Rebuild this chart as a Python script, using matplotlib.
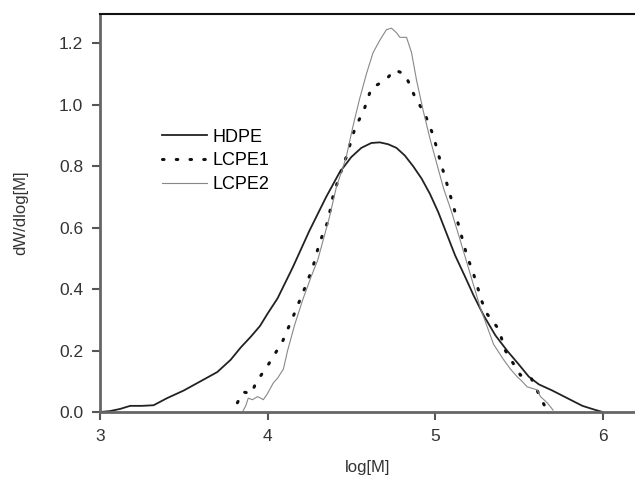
import numpy as np
import matplotlib.pyplot as plt

plt.rcParams['font.family'] = ['Liberation Sans', 'DejaVu Sans']

# HDPE (solid)
hdpe_x = [3.0, 3.06, 3.12, 3.18, 3.25, 3.32, 3.40, 3.5, 3.6, 3.7, 3.78, 3.84, 3.9,
          3.955, 4.0, 4.06, 4.15, 4.25, 4.35, 4.43, 4.5, 4.56, 4.62, 4.67, 4.72,
          4.77, 4.82, 4.87, 4.92, 4.97, 5.02, 5.07, 5.12, 5.18, 5.23, 5.29, 5.36,
          5.43, 5.50, 5.56, 5.62, 5.70, 5.79, 5.88, 5.95, 6.0]
hdpe_y = [0.0, 0.003, 0.01, 0.02, 0.02, 0.022, 0.045, 0.07, 0.10, 0.13, 0.17, 0.21,
          0.245, 0.28, 0.32, 0.37, 0.47, 0.59, 0.70, 0.78, 0.83, 0.86, 0.876, 0.878,
          0.872, 0.86, 0.835, 0.80, 0.76, 0.71, 0.65, 0.58, 0.51, 0.44, 0.38, 0.315,
          0.25, 0.20, 0.155, 0.115, 0.09, 0.07, 0.045, 0.02, 0.008, 0.0]

# LCPE1 (dotted)
lcpe1_x = [3.82, 3.855, 3.905, 3.93, 4.0, 4.09, 4.16, 4.22, 4.27, 4.31, 4.36, 4.39,
           4.43, 4.47, 4.52, 4.58, 4.62, 4.67, 4.72, 4.76, 4.82, 4.85, 4.88, 4.94,
           4.99, 5.03, 5.07, 5.11, 5.15, 5.19, 5.23, 5.28, 5.31, 5.38, 5.42, 5.51,
           5.57, 5.645, 5.67]
lcpe1_y = [0.03, 0.065, 0.06, 0.095, 0.15, 0.23, 0.32, 0.40, 0.47, 0.55, 0.62, 0.70,
           0.77, 0.83, 0.92, 0.99, 1.055, 1.07, 1.09, 1.114, 1.10, 1.065, 1.026, 0.97,
           0.90, 0.82, 0.745, 0.67, 0.59, 0.51, 0.45, 0.36, 0.32, 0.27, 0.20, 0.12,
           0.115, 0.03, 0.005]

# LCPE2 (thin grey)
lcpe2_x = [3.855, 3.87, 3.885, 3.91, 3.94, 3.96, 3.975, 4.0, 4.035, 4.06, 4.095, 4.12,
           4.16, 4.21, 4.26, 4.30, 4.37, 4.41, 4.47, 4.51, 4.55, 4.59, 4.63, 4.67,
           4.71, 4.74, 4.77, 4.79, 4.83, 4.86, 4.89, 4.93, 4.97, 5.01, 5.05, 5.10,
           5.15, 5.21, 5.27, 5.31, 5.35, 5.41, 5.45, 5.49, 5.52, 5.55, 5.61, 5.63,
           5.67, 5.705]
lcpe2_y = [0.005, 0.02, 0.045, 0.04, 0.05, 0.045, 0.04, 0.06, 0.095, 0.11, 0.14, 0.20,
           0.28, 0.365, 0.44, 0.495, 0.635, 0.73, 0.83, 0.93, 1.02, 1.10, 1.17, 1.21,
           1.245, 1.25, 1.235, 1.22, 1.22, 1.17, 1.08, 0.98, 0.89, 0.81, 0.73, 0.65,
           0.56, 0.45, 0.34, 0.28, 0.22, 0.17, 0.14, 0.115, 0.10, 0.082, 0.072, 0.05,
           0.03, 0.006]

fig = plt.figure(figsize=(6.35, 4.78), dpi=100)
ax = fig.add_axes([100 / 635, 66 / 478, 535 / 635, 398 / 478])

ax.plot(hdpe_x, hdpe_y, color='#222222', lw=1.3, label='HDPE')
ax.plot(lcpe1_x, lcpe1_y, color='#111111', lw=2.2, linestyle=(0, (0.5, 4)),
        dash_capstyle='round', label='LCPE1')
ax.plot(lcpe2_x, lcpe2_y, color='#888888', lw=0.8, label='LCPE2')

ax.set_xlim(3, 6.194)
ax.set_ylim(0, 1.296)
ax.set_xticks([3, 4, 5, 6])
ax.set_xticklabels(['3', '4', '5', '6'])
ax.set_yticks([0.0, 0.2, 0.4, 0.6, 0.8, 1.0, 1.2])
ax.set_yticklabels(['0.0', '0.2', '0.4', '0.6', '0.8', '1.0', '1.2'])

for s in ['left', 'bottom']:
    ax.spines[s].set_color('#666666')
    ax.spines[s].set_linewidth(2)
ax.spines['top'].set_color('#111111')
ax.spines['top'].set_linewidth(1.5)
ax.spines['right'].set_visible(False)
ax.tick_params(direction='out', length=6, width=1.5, color='#555555',
               labelsize=12.5, labelcolor='#333333', pad=6)

ax.set_xlabel('log[M]', fontsize=12, color='#333333', labelpad=12)
ax.set_ylabel('dW/dlog[M]', fontsize=12, color='#333333', labelpad=22)

ax.legend(loc='upper left', bbox_to_anchor=(0.116, 0.712), frameon=False,
          fontsize=13, handlelength=2.5, handletextpad=0.3, labelspacing=0.38,
          borderaxespad=0, borderpad=0)

plt.savefig('out.png', dpi=100)
